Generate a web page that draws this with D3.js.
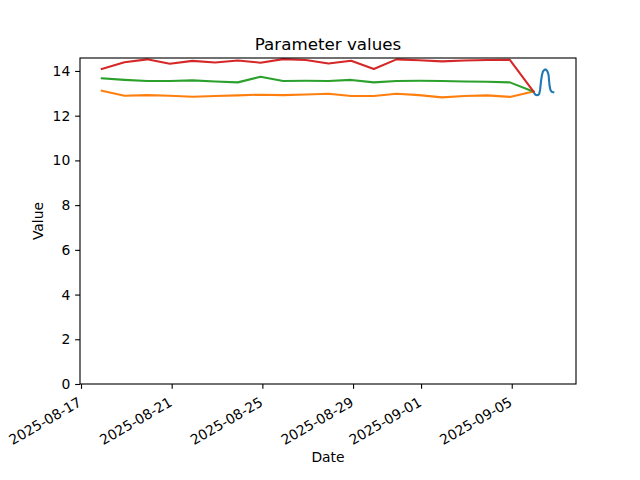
<!DOCTYPE html>
<html><head><meta charset="utf-8">
<script src="https://cdn.jsdelivr.net/npm/d3@7"></script>
<style>body{margin:0;background:#fff}svg{display:block}text{font-family:"DejaVu Sans",sans-serif;fill:#000}</style>
</head><body>
<script>
// Daily series timestamps (last point coincides with start of the hourly series)
const dailyDates = ["2025-08-17T22:00","2025-08-18T22:00","2025-08-19T22:00","2025-08-20T22:00","2025-08-21T22:00",
  "2025-08-22T22:00","2025-08-23T22:00","2025-08-24T22:00","2025-08-25T22:00","2025-08-26T22:00","2025-08-27T22:00",
  "2025-08-28T22:00","2025-08-29T22:00","2025-08-30T22:00","2025-08-31T22:00","2025-09-01T22:00","2025-09-02T22:00",
  "2025-09-03T22:00","2025-09-04T22:00","2025-09-05T23:00"];
const orangeValues = [13.12,12.89,12.92,12.89,12.85,12.88,12.91,12.94,12.92,12.95,12.98,12.88,12.88,12.98,12.92,12.82,12.88,12.91,12.84,13.08];
const greenValues  = [13.67,13.60,13.55,13.55,13.58,13.53,13.49,13.74,13.55,13.56,13.55,13.60,13.49,13.55,13.56,13.55,13.53,13.52,13.49,13.08];
const redValues    = [14.09,14.39,14.52,14.32,14.45,14.38,14.47,14.37,14.53,14.49,14.33,14.46,14.09,14.52,14.48,14.43,14.47,14.49,14.50,13.08];
// Hourly series
const hourlyStart = "2025-09-05T23:00";
const blueValues = [13.08,13.00,12.94,12.93,12.92,12.93,12.96,13.15,13.55,13.82,13.97,14.03,14.06,14.07,14.03,13.96,13.82,13.35,13.15,13.08,13.06,13.05];
const xTickLabels = ["2025-08-17","2025-08-21","2025-08-25","2025-08-29","2025-09-01","2025-09-05"];
const yTicks = [0,2,4,6,8,10,12,14];
const xDomain = ["2025-08-16T22:56","2025-09-07T20:02"];
const yDomain = [0, 14.58];

const W=640,H=480, L=80, R=576, T=58, B=384;
const PT = 100/72;
const svg = d3.select("body").append("svg").attr("width",W).attr("height",H);
const parse = s => new Date(s);
const x = d3.scaleTime().domain(xDomain.map(parse)).range([L,R]);
const y = d3.scaleLinear().domain(yDomain).range([B,T]);

const daily = dailyDates.map(parse);
const hs = parse(hourlyStart);
const blue = blueValues.map((v,i)=>({t:new Date(hs.getTime()+i*3600e3), v}));
const mk = vals => vals.map((v,i)=>({t:daily[i], v}));
const series = [
  {data: blue, color:"#1f77b4"},
  {data: mk(orangeValues), color:"#ff7f0e"},
  {data: mk(greenValues), color:"#2ca02c"},
  {data: mk(redValues), color:"#d62728"}
];
const line = d3.line().x(d=>x(d.t)).y(d=>y(d.v));
const g = svg.append("g");
g.append("clipPath").attr("id","clip").append("rect").attr("x",L).attr("y",T).attr("width",R-L).attr("height",B-T);
series.forEach(s=>{
  g.append("path").attr("d",line(s.data)).attr("fill","none").attr("stroke",s.color)
   .attr("stroke-width",1.5*PT).attr("stroke-linejoin","round").attr("stroke-linecap","square").attr("clip-path","url(#clip)");
});

// Axes
const tl = 3.5*PT;
const xAxis = d3.axisBottom(x).tickValues(xTickLabels.map(s=>parse(s+"T00:00"))).tickSize(tl).tickFormat((d,i)=>xTickLabels[i]);
const gx = svg.append("g").attr("transform",`translate(0,${B})`).call(xAxis);
gx.select(".domain").remove();
gx.selectAll(".tick line").attr("stroke","#000").attr("stroke-width",0.8*PT);
gx.selectAll(".tick text").attr("font-size","13.9px").attr("font-family","DejaVu Sans")
  .attr("text-anchor","end").attr("dy",null).attr("y",null)
  .attr("transform","translate(1,21) rotate(-30)");

const yAxis = d3.axisLeft(y).tickValues(yTicks).tickSize(tl).tickPadding(tl);
const gy = svg.append("g").attr("transform",`translate(${L},0)`).call(yAxis);
gy.select(".domain").remove();
gy.selectAll(".tick line").attr("stroke","#000").attr("stroke-width",0.8*PT);
gy.selectAll(".tick text").attr("font-size","13.9px").attr("font-family","DejaVu Sans");

svg.append("rect").attr("x",L).attr("y",T).attr("width",R-L).attr("height",B-T)
  .attr("fill","none").attr("stroke","#000").attr("stroke-width",0.8*PT);

svg.append("text").attr("x",(L+R)/2).attr("y",50).attr("text-anchor","middle").attr("font-size","16.7px").text("Parameter values");
svg.append("text").attr("x",(L+R)/2).attr("y",462).attr("text-anchor","middle").attr("font-size","13.9px").text("Date");
svg.append("text").attr("transform",`translate(43,${(T+B)/2}) rotate(-90)`).attr("text-anchor","middle").attr("font-size","13.9px").text("Value");
</script>
</body></html>
